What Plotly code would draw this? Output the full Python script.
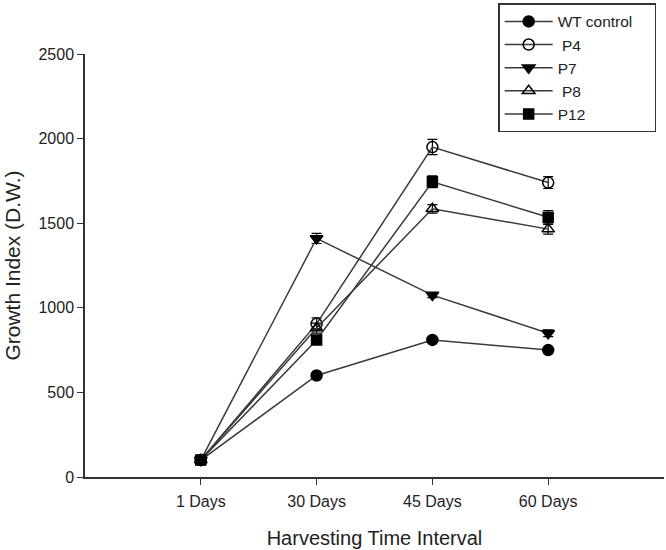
import plotly.graph_objects as go

categories = ["1 Days", "30 Days", "45 Days", "60 Days"]
series_names = ["WT control\u00a0\u00a0\u00a0\u00a0", " P4", "P7", " P8", "P12"]
wt = [100, 600, 810, 750]
p4 = [100, 905, 1950, 1740]
p7 = [100, 1410, 1075, 850]
p8 = [100, 880, 1585, 1465]
p12 = [100, 810, 1745, 1535]
wt_err = [10, 12, 15, 12]
p4_err = [10, 35, 45, 35]
p7_err = [10, 30, 15, 20]
p8_err = [10, 30, 25, 30]
p12_err = [10, 20, 35, 40]

values = [wt, p4, p7, p8, p12]
errors = [wt_err, p4_err, p7_err, p8_err, p12_err]
symbols = ["circle", "circle-open", "triangle-down", "triangle-up-open", "square"]
sizes = [11, 11, 11, 11, 10]

fig = go.Figure()
xs = list(range(len(categories)))
for name, v, e, s, sz in zip(series_names, values, errors, symbols, sizes):
    fig.add_trace(go.Scatter(
        x=xs, y=v, name=name, mode="lines+markers",
        line=dict(color="#3a3a3a", width=1.5),
        marker=dict(symbol=s, size=sz, color="black", line=dict(color="black", width=1.5)),
        error_y=dict(type="data", array=e, visible=True, color="black", thickness=1.2, width=5),
    ))

font = "Liberation Sans, Arial, sans-serif"
fig.update_layout(
    width=666, height=550, autosize=False,
    margin=dict(l=85, r=2, t=54, b=73, autoexpand=False),
    plot_bgcolor="white", paper_bgcolor="white",
    font=dict(family=font, size=16, color="#222222"),
    showlegend=True,
    legend=dict(
        xref="container", yref="container",
        x=0.748, y=0.994, xanchor="left", yanchor="top",
        bordercolor="#333333", borderwidth=1.5, bgcolor="white",
        font=dict(family=font, size=15.5, color="#222222"),
        tracegroupgap=0, itemwidth=48,
    ),
    xaxis=dict(
        range=[-1, 4], tickmode="array", tickvals=xs, ticktext=categories,
        showgrid=False, zeroline=False, showline=True, linecolor="#333333", linewidth=1.5,
        ticks="outside", ticklen=6, tickwidth=1.2, tickcolor="#333333",
        tickfont=dict(size=16), ticklabelstandoff=3,
        title=dict(text="Harvesting Time Interval", font=dict(size=20), standoff=22),
    ),
    yaxis=dict(
        range=[0, 2500], tickvals=[0, 500, 1000, 1500, 2000, 2500],
        showgrid=False, zeroline=False, showline=True, linecolor="#333333", linewidth=1.5,
        ticks="outside", ticklen=6, tickwidth=1.2, tickcolor="#333333",
        tickfont=dict(size=16),
        title=dict(text="Growth Index (D.W.)", font=dict(size=21), standoff=12),
    ),
)

fig.write_html(
    "out.html",
    config={"responsive": False, "displayModeBar": False},
    post_script="document.body.style.margin='0';document.body.style.overflow='hidden';",
)
